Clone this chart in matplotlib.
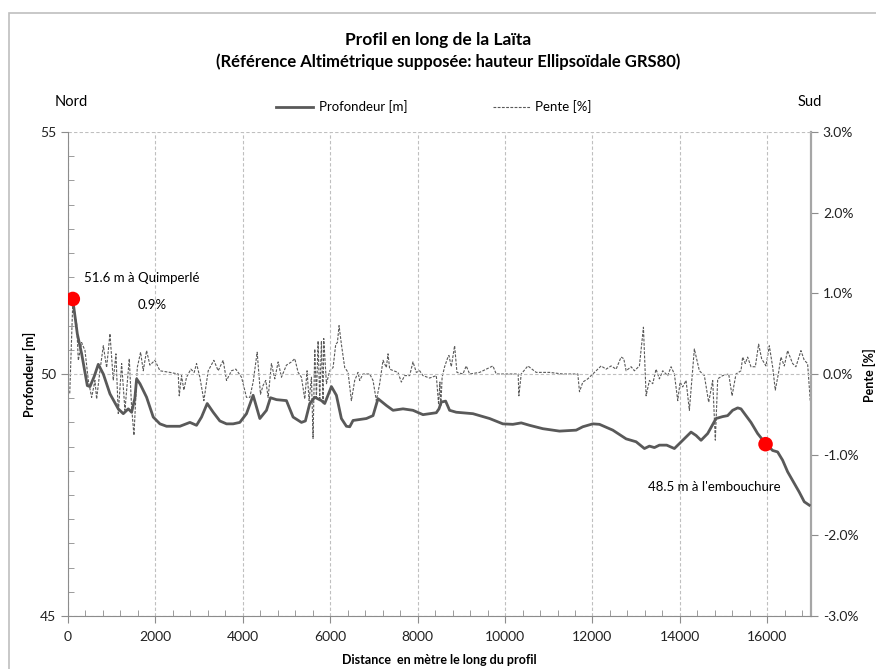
import numpy as np
import matplotlib
matplotlib.use("Agg")
import matplotlib.pyplot as plt
from matplotlib.lines import Line2D
from matplotlib.patches import Rectangle
from matplotlib.ticker import MultipleLocator, FuncFormatter

plt.rcParams['font.family'] = ['Lato', 'DejaVu Sans']

# profil (distance en m, profondeur en m)
prof_dist = [100, 213, 312, 442, 503, 600, 693, 808, 960, 1150, 1265, 1379, 1455, 1530, 1570,
             1646, 1798, 1950, 2103, 2255, 2560, 2789, 2941, 3055, 3185, 3322, 3474, 3627, 3779,
             3931, 4084, 4236, 4389, 4541, 4632, 4770, 4998, 5150, 5341, 5431, 5531, 5646, 5798,
             5874, 6027, 6141, 6255, 6370, 6446, 6522, 6827, 6979, 7093, 7284, 7436, 7665, 7893,
             8122, 8427, 8488, 8541, 8640, 8731, 8884, 9265, 9646, 9950, 10179, 10370, 10560,
             10865, 11246, 11627, 11779, 12008, 12160, 12465, 12770, 12998, 13189, 13303, 13417,
             13531, 13699, 13874, 14065, 14255, 14370, 14484, 14636, 14827, 14979, 15093, 15207,
             15322, 15398, 15627, 15779, 15954, 16122, 16236, 16350, 16465, 16617, 16731, 16846,
             16960]
prof_val = [51.6, 50.83, 50.42, 49.76, 49.74, 49.95, 50.2, 50.0, 49.59, 49.28, 49.18, 49.28, 49.21,
            49.5, 49.9, 49.8, 49.52, 49.11, 48.97, 48.92, 48.92, 49.0, 48.94, 49.11, 49.39, 49.21,
            49.03, 48.97, 48.97, 49.0, 49.18, 49.56, 49.08, 49.25, 49.51, 49.47, 49.45, 49.11,
            49.0, 49.03, 49.39, 49.52, 49.45, 49.39, 49.74, 49.56, 49.08, 48.92, 48.91, 49.04,
            49.08, 49.14, 49.49, 49.35, 49.25, 49.28, 49.25, 49.16, 49.2, 49.28, 49.42, 49.44,
            49.25, 49.21, 49.18, 49.08, 48.97, 48.96, 48.99, 48.94, 48.87, 48.82, 48.84, 48.91,
            48.97, 48.96, 48.84, 48.66, 48.6, 48.46, 48.51, 48.48, 48.53, 48.53, 48.46, 48.63,
            48.8, 48.73, 48.63, 48.77, 49.08, 49.12, 49.14, 49.25, 49.3, 49.28, 49.0, 48.77,
            48.57, 48.42, 48.39, 48.22, 47.98, 47.74, 47.56, 47.36, 47.29]

# pente (distance en m, pente en %)
pente_dist = [40, 110, 198, 236, 312, 389, 465, 541, 617, 655, 731, 808, 884, 960, 1036, 1097,
              1150, 1227, 1303, 1402, 1455, 1509, 1585, 1661, 1722, 1798, 1874, 1989, 2103, 2331,
              2522, 2545, 2598, 2651, 2712, 2811, 2887, 2941, 3017, 3109, 3208, 3337, 3436, 3550,
              3627, 3741, 3840, 3970, 4084, 4160, 4236, 4328, 4404, 4465, 4526, 4579, 4655, 4731,
              4808, 4884, 4998, 5113, 5189, 5265, 5341, 5417, 5470, 5516, 5570, 5607, 5646, 5684,
              5722, 5760, 5798, 5836, 5851, 5913, 5989, 6065, 6126, 6164, 6202, 6255, 6331, 6408,
              6484, 6560, 6636, 6674, 6750, 6903, 6979, 7055, 7131, 7208, 7284, 7322, 7360, 7451,
              7550, 7627, 7703, 7817, 7893, 7970, 8046, 8122, 8274, 8427, 8480, 8510, 8530, 8560,
              8617, 8693, 8716, 8770, 8846, 8899, 9036, 9112, 9189, 9417, 9722, 9798, 10103,
              10300, 10316, 10370, 10522, 10713, 11017, 11322, 11665, 11703, 11779, 11893, 12008,
              12198, 12312, 12427, 12541, 12655, 12716, 12770, 12884, 12960, 13074, 13166, 13227,
              13303, 13379, 13455, 13531, 13608, 13722, 13798, 13874, 13951, 14005, 14065, 14141,
              14217, 14331, 14446, 14560, 14659, 14751, 14811, 14865, 14979, 15117, 15194, 15284,
              15398, 15436, 15497, 15550, 15627, 15726, 15802, 15870, 15970, 16046, 16122, 16183,
              16259, 16312, 16389, 16465, 16579, 16655, 16770, 16846, 16922, 16983]
pente_val = [-0.24, 0.9, 0.62, 0.17, 0.39, 0.29, -0.08, -0.29, -0.08, -0.31, 0.04, 0.35, 0.08, 0.5,
             -0.08, 0.25, -0.49, 0.13, -0.45, 0.19, -0.41, -0.76, 0.08, 0.27, 0.04, 0.29, 0.11,
             0.17, 0.04, 0.02, 0.0, -0.27, -0.02, -0.2, -0.04, 0.06, 0.02, 0.13, -0.04, -0.33,
             0.04, 0.17, 0.04, 0.17, -0.08, 0.04, 0.06, -0.04, -0.29, -0.29, -0.1, 0.27, -0.25,
             -0.14, -0.08, -0.29, 0.13, -0.06, 0.15, -0.04, 0.11, 0.15, 0.19, 0.02, -0.04, -0.31,
             0.04, -0.33, -0.04, -0.8, 0.31, -0.29, 0.41, -0.33, 0.41, -0.37, 0.44, -0.12, 0.04,
             0.08, 0.37, 0.39, 0.6, 0.37, 0.08, 0.02, -0.33, -0.08, 0.02, -0.08, 0.0, 0.0, -0.08,
             -0.33, -0.12, 0.17, 0.08, 0.25, 0.06, 0.04, 0.02, -0.1, -0.02, -0.02, 0.15, 0.02,
             0.04, -0.02, -0.05, -0.02, -0.38, -0.1, -0.4, -0.04, 0.09, 0.21, 0.23, 0.09, 0.35,
             0.02, 0.0, 0.1, 0.0, 0.02, 0.1, 0.0, 0.0, 0.0, -0.27, 0.0, 0.1, 0.02, 0.02, 0.0, 0.0,
             -0.22, -0.1, -0.06, 0.0, 0.1, 0.06, 0.1, 0.06, 0.21, 0.19, 0.04, 0.09, 0.04, 0.1,
             0.58, -0.27, -0.08, -0.12, 0.06, -0.06, 0.04, -0.02, 0.09, 0.0, -0.33, -0.1, -0.16,
             -0.08, -0.45, 0.31, 0.04, -0.02, -0.35, -0.08, -0.82, -0.06, -0.02, 0.0, -0.27, 0.0,
             0.04, 0.21, 0.13, 0.21, 0.09, 0.09, 0.37, 0.19, 0.1, 0.35, 0.09, -0.2, 0.02, 0.21,
             0.1, 0.29, 0.13, 0.09, 0.29, 0.17, 0.13, -0.33]

# points remarquables
pts_dist = [110, 15960]
pts_val = [51.55, 48.55]

W, H = 876, 669
fig = plt.figure(figsize=(W / 100, H / 100), dpi=100)
L, R, T, B = 68, 811, 132, 616
ax = fig.add_axes([L / W, 1 - B / H, (R - L) / W, (B - T) / H])
ax2 = ax.twinx()

gris = '#595959'
ax.plot(prof_dist, prof_val, color=gris, lw=2.0, zorder=3)
ax2.plot(pente_dist, pente_val, color=gris, lw=0.8, linestyle=(0, (2.5, 1.3)), zorder=2)
ax.scatter(pts_dist, pts_val, s=110, color='#ff0000', zorder=5, edgecolors='none')

ax.set_xlim(0, 17000)
ax.set_ylim(45, 55)
ax2.set_ylim(-3, 3)
ax.set_zorder(ax2.get_zorder() + 1)
ax.patch.set_visible(False)

ax.xaxis.set_major_locator(MultipleLocator(2000))
ax.xaxis.set_minor_locator(MultipleLocator(400))
ax.yaxis.set_major_locator(MultipleLocator(5))
ax.yaxis.set_minor_locator(MultipleLocator(0.5))
ax2.yaxis.set_major_locator(MultipleLocator(1))
ax2.yaxis.set_major_formatter(FuncFormatter(lambda v, p: f"{v:.1f}%"))

grid_kw = dict(color='#bfbfbf', lw=0.8, linestyle=(0, (3, 2)))
ax.grid(True, which='major', axis='both', **grid_kw)

for a in (ax, ax2):
    for s in a.spines.values():
        s.set_visible(False)
ax.spines['left'].set_visible(True)
ax.spines['left'].set_color('#8c8c8c')
ax.spines['bottom'].set_visible(True)
ax.spines['bottom'].set_color('#8c8c8c')
ax2.spines['right'].set_visible(True)
ax2.spines['right'].set_color('#a6a6a6')
ax2.spines['right'].set_linewidth(1.6)

ax.tick_params(axis='both', which='major', direction='out', length=5, color='#8c8c8c',
               labelsize=10, labelcolor='#222222')
ax.tick_params(axis='both', which='minor', direction='in', length=4, color='#8c8c8c')
ax2.tick_params(axis='y', which='major', direction='out', length=5, color='#8c8c8c',
                labelsize=10, labelcolor='#222222')
ax.tick_params(axis='x', pad=6)

ax.set_xlabel("Distance  en mètre le long du profil", fontsize=9, fontweight='bold', labelpad=8)
ax.set_ylabel("Profondeur [m]", fontsize=9, fontweight='bold', labelpad=3)
fig.text(869 / W, 1 - 375 / H, "Pente [%]", rotation=90, ha='center', va='center',
         fontsize=9, fontweight='bold')

fig.text(438 / W, 1 - 40 / H, "Profil en long de la Laïta", ha='center', va='center',
         fontsize=12.5, fontweight='bold')
fig.text(448 / W, 1 - 62 / H, "(Référence Altimétrique supposée: hauteur Ellipsoïdale GRS80)",
         ha='center', va='center', fontsize=12, fontweight='bold')
fig.text(55 / W, 1 - 102 / H, "Nord", ha='left', va='center', fontsize=10.5)
fig.text(822 / W, 1 - 102 / H, "Sud", ha='right', va='center', fontsize=10.5)

handles = [Line2D([], [], color=gris, lw=2.0),
           Line2D([], [], color=gris, lw=0.8, linestyle=(0, (2.5, 1.3)))]
ax.legend(handles, ["Profondeur [m]", "Pente [%]"], ncol=2, loc='center',
          bbox_to_anchor=(434 / W, 1 - 107 / H), bbox_transform=fig.transFigure,
          frameon=False, fontsize=9.5, handlelength=2.8, handletextpad=0.4, columnspacing=6.5)

ax.text(370, 51.98, "51.6 m à Quimperlé", fontsize=9.5, ha='left', va='center')
ax.text(1920, 51.43, "0.9%", fontsize=9.5, ha='center', va='center')
ax.text(14790, 47.67, "48.5 m à l'embouchure", fontsize=9.5, ha='center', va='center')

fig.add_artist(Rectangle((9 / W, -0.1), 1.2, 1 - 13 / H + 0.1, transform=fig.transFigure,
                         fill=False, edgecolor='#bfbfbf', lw=1.2))

fig.savefig("out.png", dpi=100)
